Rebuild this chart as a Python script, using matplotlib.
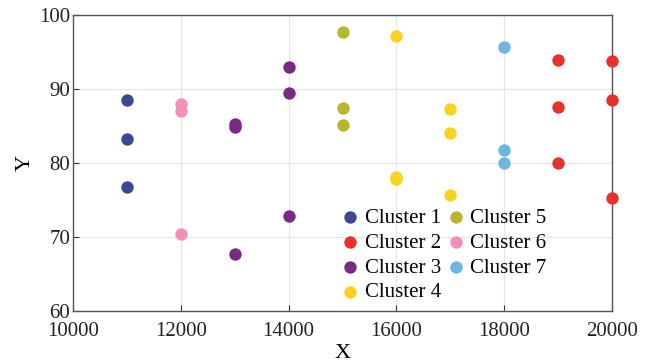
import matplotlib.pyplot as plt
import numpy as np

plt.rcParams['font.family'] = ['Liberation Serif', 'DejaVu Serif']

# data
c1_x = [11000, 11000, 11000]
c1_y = [88.5, 83.3, 76.8]
c2_x = [19000, 19000, 19000, 20000, 20000, 20000]
c2_y = [93.9, 87.6, 80.0, 93.8, 88.5, 75.3]
c3_x = [13000, 13000, 13000, 14000, 14000, 14000]
c3_y = [85.3, 84.9, 67.7, 93.0, 89.5, 72.8]
c4_x = [16000, 16000, 16000, 17000, 17000, 17000]
c4_y = [97.2, 78.1, 77.9, 87.3, 84.1, 75.7]
c5_x = [15000, 15000, 15000]
c5_y = [97.7, 87.5, 85.2]
c6_x = [12000, 12000, 12000]
c6_y = [88.0, 87.1, 70.4]
c7_x = [18000, 18000, 18000]
c7_y = [95.7, 81.7, 80.0]

clusters = [
    ('Cluster 1', c1_x, c1_y, '#3f4695'),
    ('Cluster 2', c2_x, c2_y, '#e8312b'),
    ('Cluster 3', c3_x, c3_y, '#7a2a84'),
    ('Cluster 4', c4_x, c4_y, '#fdd21c'),
    ('Cluster 5', c5_x, c5_y, '#b4b82a'),
    ('Cluster 6', c6_x, c6_y, '#f48fbc'),
    ('Cluster 7', c7_x, c7_y, '#6bb7e1'),
]

fig = plt.figure(figsize=(6.49, 3.64), dpi=100)
ax = fig.add_axes([0.1125, 0.1456, 0.8305, 0.813])

for name, xs, ys, col in clusters:
    ax.scatter(xs, ys, s=80, color=col, label=name, zorder=3, linewidths=0,
               clip_on=False)

ax.set_xlim(10000, 20000)
ax.set_ylim(60, 100)
ax.set_xticks(np.arange(10000, 20001, 2000))
ax.set_yticks(np.arange(60, 101, 10))
ax.grid(True, color='#e6e6e6', linewidth=0.8)
ax.set_axisbelow(True)
for sp in ax.spines.values():
    sp.set_color('#555555')
    sp.set_linewidth(1.0)
ax.tick_params(direction='in', length=4, labelsize=15, colors='#333333',
               labelcolor='#222222', top=False, right=False, pad=2)
ax.tick_params(axis='x', pad=8)
ax.set_xlabel('X', fontsize=16, labelpad=2)
ax.set_ylabel('Y', fontsize=16, labelpad=3)

ax.legend(loc='upper left', bbox_to_anchor=(0.476, 0.375), ncol=2, frameon=False,
          fontsize=15, handletextpad=0.1, columnspacing=0.1, labelspacing=0.25,
          borderaxespad=0, handlelength=1.2, markerscale=1.0)

fig.savefig('out.png', dpi=100)
